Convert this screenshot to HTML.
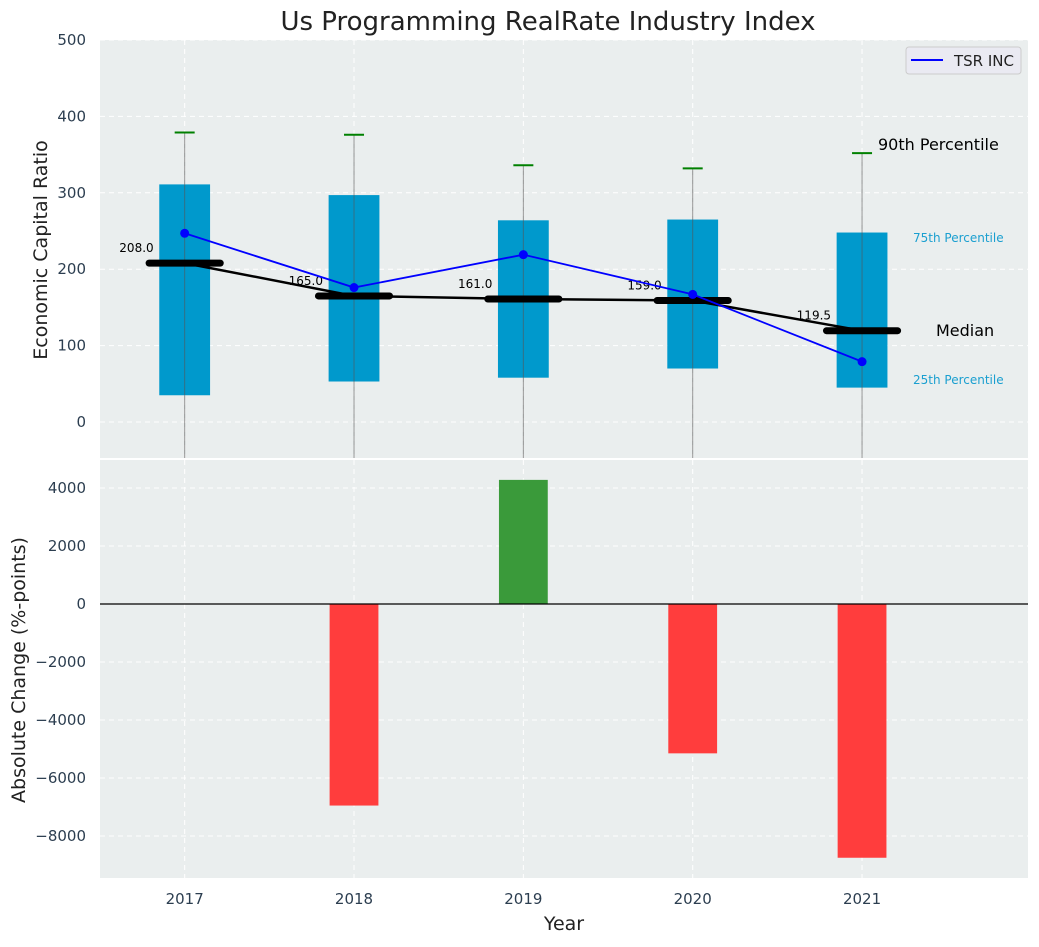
<!DOCTYPE html>
<html><head><meta charset="utf-8"><style>
body{margin:0;background:#fff;font-family:"Liberation Sans","DejaVu Sans",sans-serif}
svg text{font-family:"DejaVu Sans","Liberation Sans",sans-serif}
</style></head><body>
<svg id="c" width="1039" height="942" xmlns="http://www.w3.org/2000/svg"></svg>
<script>
const years=[2017,2018,2019,2020,2021];
const p25=[35,53,58,70,45];
const p75=[311,297,264,265,248];
const p90=[379,376,336,332,352];
const medians=[208,165,161,159,119.5];
const tsr=[247,176,219,167,79];
const changes=[0,-6950,4280,-5150,-8750];
const topTicks=[0,100,200,300,400,500];
const botTicks=[-8000,-6000,-4000,-2000,0,2000,4000];

const svg=document.getElementById('c');
const NS='http://www.w3.org/2000/svg';
function el(t,a,txt){const e=document.createElementNS(NS,t);for(const k in a)e.setAttribute(k,a[k]);if(txt!==undefined)e.textContent=txt;svg.appendChild(e);return e;}
const L=100,R=1028;
const X=v=>L+(v-2016.5)*(R-L)/5.48;
const T0=40,T1=458,Y1=v=>422-v*0.764;
const B0=460,B1=878,Y2=v=>604-v*0.029;

let e;
e=el('rect',{x:L,y:T0,width:R-L,height:T1-T0,fill:'#eaeeee'});

e=el('rect',{x:L,y:B0,width:R-L,height:B1-B0,fill:'#eaeeee'});

years.forEach(y=>{
 e=el('line',{x1:X(y),x2:X(y),y1:T0,y2:T1,stroke:'#fff','stroke-dasharray':'5,4','stroke-width':1});
 
 e=el('line',{x1:X(y),x2:X(y),y1:B0,y2:B1,stroke:'#fff','stroke-dasharray':'5,4','stroke-width':1});
 
});
topTicks.forEach(t=>{
 e=el('line',{x1:L,x2:R,y1:Y1(t),y2:Y1(t),stroke:'#fff','stroke-dasharray':'5,4'});
 
 e=el('text',{x:86,y:Y1(t)+5,'text-anchor':'end','font-size':15,fill:'#2c3e50'},String(t));
 
});
botTicks.forEach(t=>{
 e=el('line',{x1:L,x2:R,y1:Y2(t),y2:Y2(t),stroke:'#fff','stroke-dasharray':'5,4'});
 
 e=el('text',{x:86,y:Y2(t)+5,'text-anchor':'end','font-size':15,fill:'#2c3e50'},String(t).replace('-','\u2212'));
 
});
const bw=(R-L)/5.48*0.3, mw=(R-L)/5.48*0.42;
years.forEach((y,i)=>{
 const x=X(y);
 e=el('rect',{x:x-bw/2,y:Y1(p75[i]),width:bw,height:Y1(p25[i])-Y1(p75[i]),fill:'#0099cc'});
 
 e=el('line',{x1:x,x2:x,y1:Y1(p90[i]),y2:T1,stroke:'#555','stroke-opacity':0.6,'stroke-width':1});
 
 e=el('line',{x1:x-10,x2:x+10,y1:Y1(p90[i]),y2:Y1(p90[i]),stroke:'green','stroke-width':2});
 
});
e=el('polyline',{points:years.map((y,i)=>X(y)+','+Y1(medians[i])).join(' '),fill:'none',stroke:'#000','stroke-width':2.5});

years.forEach((y,i)=>{
 const x=X(y);
 e=el('line',{x1:x-mw/2,x2:x+mw/2,y1:Y1(medians[i]),y2:Y1(medians[i]),stroke:'#000','stroke-width':7,'stroke-linecap':'round'});
 
 e=el('text',{x:x-31,y:Y1(medians[i])-11,'text-anchor':'end','font-size':12,fill:'#000'},medians[i].toFixed(1));
 
});
e=el('polyline',{points:years.map((y,i)=>X(y)+','+Y1(tsr[i])).join(' '),fill:'none',stroke:'blue','stroke-width':1.8});

years.forEach((y,i)=>{
 e=el('circle',{cx:X(y),cy:Y1(tsr[i]),r:4.5,fill:'blue'});
 
});
e=el('text',{x:878,y:150,'font-size':16,fill:'#000'},'90th Percentile');
e=el('text',{x:913,y:242,'font-size':12,fill:'#1a9fd0'},'75th Percentile');
e=el('text',{x:936,y:336,'font-size':16,fill:'#000'},'Median');
e=el('text',{x:913,y:384,'font-size':12,fill:'#1a9fd0'},'25th Percentile');
e=el('rect',{x:906,y:47,width:115,height:27,rx:3,fill:'#eaeaf2',stroke:'#ccc'});
e=el('line',{x1:911,x2:943,y1:60,y2:60,stroke:'blue','stroke-width':2});
e=el('text',{x:954,y:66,'font-size':15,fill:'#222'},'TSR INC');
years.forEach((y,i)=>{
 const v=changes[i];if(v===0)return;
 const y0=Math.min(Y2(0),Y2(v)),h=Math.abs(Y2(v)-Y2(0));
 e=el('rect',{x:X(y)-bw/2+1,y:y0,width:bw-2,height:h,fill:v>0?'#3a9a3a':'#ff3d3d'});
 
});
e=el('line',{x1:L,x2:R,y1:Y2(0),y2:Y2(0),stroke:'#000','stroke-width':1.2});
years.forEach(y=>{
 e=el('text',{x:X(y),y:904,'text-anchor':'middle','font-size':15,fill:'#2c3e50'},String(y));
 
});
e=el('text',{x:564,y:930,'text-anchor':'middle','font-size':19,fill:'#222'},'Year');
e=el('text',{x:548,y:30,'text-anchor':'middle','font-size':26,fill:'#222'},'Us Programming RealRate Industry Index');
e=el('text',{x:0,y:0,'text-anchor':'middle','font-size':19,fill:'#222',transform:'translate(47,250) rotate(-90)'},'Economic Capital Ratio');
e=el('text',{x:0,y:0,'text-anchor':'middle','font-size':19,fill:'#222',transform:'translate(25,670) rotate(-90)'},'Absolute Change (%-points)');
</script>
</body></html>
